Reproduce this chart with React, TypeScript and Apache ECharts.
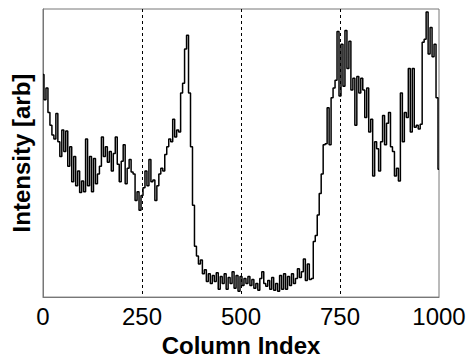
import React, { useEffect, useRef } from "react";
import * as echarts from "echarts";

const xStep = 5;
const intensity = [
  228, 202, 214, 189, 176, 166, 162, 188, 159, 144,
  171, 149, 170, 134, 154, 118, 144, 114, 129, 107,
  119, 108, 162, 114, 144, 108, 142, 116, 126, 134,
  164, 144, 154, 138, 149, 129, 147, 164, 136, 118,
  139, 156, 116, 132, 141, 128, 126, 99, 108, 89,
  104, 112, 129, 114, 141, 118, 120, 99, 114, 126,
  132, 129, 146, 154, 162, 159, 182, 164, 171, 169,
  209, 219, 254, 268, 209, 154, 94, 52, 42, 34,
  38, 24, 28, 16, 24, 14, 22, 16, 25, 8,
  21, 14, 24, 8, 20, 14, 26, 9, 22, 6,
  21, 12, 19, 14, 21, 12, 18, 9, 14, 7,
  19, 26, 14, 11, 17, 8, 20, 7, 14, 6,
  22, 8, 24, 8, 21, 12, 24, 14, 19, 29,
  20, 26, 39, 17, 34, 18, 19, 57, 63, 84,
  106, 126, 156, 157, 194, 156, 204, 214, 222, 272,
  206, 259, 216, 273, 234, 262, 212, 224, 176, 226,
  209, 224, 212, 184, 214, 169, 182, 124, 159, 152,
  129, 159, 186, 156, 178, 189, 154, 149, 124, 132,
  119, 209, 159, 189, 184, 234, 169, 234, 174, 176,
  172, 177, 261, 264, 292, 249, 276, 246, 259, 204,
  131,
];
const xTicks = [0, 250, 500, 750, 1000];

const FONT = "'Liberation Sans', Arial, Helvetica, sans-serif";

export default function App() {
  const ref = useRef<HTMLDivElement>(null);
  useEffect(() => {
    if (!ref.current) return;
    const chart = echarts.init(ref.current, null, { renderer: "svg" });
    const data = intensity.map((v, i) => [i * xStep, v]);
    chart.setOption({
      animation: false,
      backgroundColor: "#ffffff",
      grid: {
        left: 43,
        right: 30,
        top: 9,
        bottom: 58,
        show: true,
        borderColor: "#777777",
        borderWidth: 1,
        containLabel: false,
      },
      xAxis: {
        type: "value",
        min: xTicks[0],
        max: xTicks[xTicks.length - 1],
        interval: 250,
        name: "Column Index",
        nameLocation: "middle",
        nameGap: 32,
        nameTextStyle: { fontFamily: FONT, fontSize: 24, fontWeight: "bold", color: "#000" },
        axisLine: { show: true, lineStyle: { color: "#777777", width: 1 } },
        axisTick: { show: false },
        axisLabel: {
          fontFamily: FONT,
          fontSize: 24,
          color: "#000",
          margin: 7,
          showMinLabel: true,
          showMaxLabel: true,
          formatter: (v: number) => String(v),
        },
        splitLine: {
          show: true,
          showMinLine: false,
          showMaxLine: false,
          lineStyle: { color: "#000", type: [3, 3], width: 1 },
        },
      },
      yAxis: {
        type: "value",
        min: 0,
        max: 295,
        name: "Intensity [arb]",
        nameLocation: "middle",
        nameGap: 10,
        nameTextStyle: { fontFamily: FONT, fontSize: 24, fontWeight: "bold", color: "#000" },
        axisLine: { show: true, lineStyle: { color: "#777777", width: 1 } },
        axisTick: { show: false },
        axisLabel: { show: false },
        splitLine: { show: false },
      },
      series: [
        {
          type: "line",
          data,
          step: "middle",
          showSymbol: false,
          lineStyle: { color: "#000", width: 1.5 },
          z: 3,
        },
      ],
    });
    return () => chart.dispose();
  }, []);
  return <div ref={ref} style={{ width: 469, height: 362, position: "absolute", left: 0, top: 0 }} />;
}
